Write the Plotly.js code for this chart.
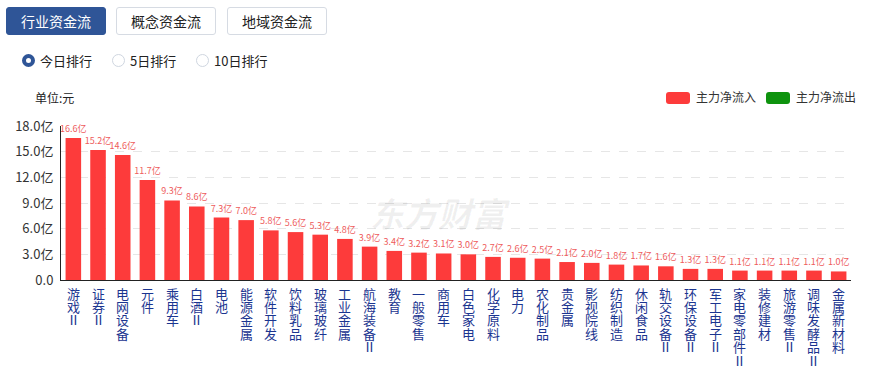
<!DOCTYPE html>
<html>
<head>
<meta charset="utf-8">
<script src="https://cdn.plot.ly/plotly-3.0.1.min.js"></script>
<style>
  html, body { margin: 0; padding: 0; background: #fff; }
  body { width: 873px; height: 369px; position: relative; overflow: hidden;
         font-family: "Noto Sans CJK SC", "Microsoft YaHei", sans-serif; }
  #chart { position: absolute; left: 0; top: 0; width: 873px; height: 369px; }
  .tab { position: absolute; top: 7px; height: 28px; width: 100px; box-sizing: border-box;
         border: 1px solid #d6dbe3; border-radius: 3px; background: #fff; color: #222;
         font-size: 14px; line-height: 26px; text-align: center; }
  .tab.on { background: #2f5597; border-color: #2f5597; color: #fff; }
  .radio { position: absolute; top: 52px; font-size: 13px; color: #222; line-height: 18px; }
  .radio i { position: absolute; left: -18px; top: 2px; width: 13px; height: 13px;
             box-sizing: border-box; border-radius: 50%; border: 1px solid #cfd6e0; background: #fff; }
  .radio.on i { border: 4px solid #2f5597; }
  .unit { position: absolute; left: 35px; top: 89px; font-size: 12px; color: #222; }
  .lg { position: absolute; top: 89px; font-size: 12px; color: #333; line-height: 16px; }
  .lg i { position: absolute; left: -30px; top: 3px; width: 24px; height: 12px; border-radius: 3px; }
</style>
</head>
<body>
<div id="chart"></div>
<div class="tab on" style="left:6px">行业资金流</div>
<div class="tab" style="left:116px">概念资金流</div>
<div class="tab" style="left:227px">地域资金流</div>
<div class="radio on" style="left:40px"><i></i>今日排行</div>
<div class="radio" style="left:130px"><i></i>5日排行</div>
<div class="radio" style="left:214px"><i></i>10日排行</div>
<div class="unit">单位:元</div>
<div class="lg" style="left:696px"><i style="background:#fd3b3b"></i>主力净流入</div>
<div class="lg" style="left:796px"><i style="background:#0e930e"></i>主力净流出</div>
<script>
// 行业板块主力净流入（亿元）
const industries = [
  "游戏Ⅱ", "证券Ⅱ", "电网设备", "元件", "乘用车", "白酒Ⅱ", "电池", "能源金属",
  "软件开发", "饮料乳品", "玻璃玻纤", "工业金属", "航海装备Ⅱ", "教育", "一般零售", "商用车",
  "白色家电", "化学原料", "电力", "农化制品", "贵金属", "影视院线", "纺织制造", "休闲食品",
  "轨交设备Ⅱ", "环保设备Ⅱ", "军工电子Ⅱ", "家电零部件Ⅱ", "装修建材", "旅游零售Ⅱ", "调味发酵品Ⅱ", "金属新材料"
];
const netInflow = [
  16.6, 15.2, 14.6, 11.7, 9.3, 8.6, 7.3, 7.0,
  5.8, 5.6, 5.3, 4.8, 3.9, 3.4, 3.2, 3.1,
  3.0, 2.7, 2.6, 2.5, 2.1, 2.0, 1.8, 1.7,
  1.6, 1.3, 1.3, 1.1, 1.1, 1.1, 1.1, 1.0
];
const yTickVals = [0, 3, 6, 9, 12, 15, 18];
const yTickText = ["0.0", "3.0亿", "6.0亿", "9.0亿", "12.0亿", "15.0亿", "18.0亿"];

const cjk = '"Noto Sans CJK SC", "Microsoft YaHei", sans-serif';

// 竖排分类名：逐字放在各自类目下方，行距紧凑
const CHAR_STEP = 13.4;
const nameAnnotations = [];
industries.forEach(name => {
  Array.from(name).forEach((ch, i) => {
    nameAnnotations.push({
      xref: "x", yref: "paper", x: name, y: 0,
      yanchor: "middle", xanchor: "center",
      yshift: -13 - CHAR_STEP * i,
      text: ch, showarrow: false,
      font: { family: cjk, size: 13, color: "#1b3590" }
    });
  });
});

const trace = {
  type: "bar",
  x: industries,
  y: netInflow,
  marker: { color: "#fd3b3b" },
  text: netInflow.map(v => v.toFixed(1) + "亿"),
  textposition: "outside",
  constraintext: "none",
  cliponaxis: false,
  textfont: { family: cjk, size: 9, color: "#ee5b5b" },
  hoverinfo: "x+y"
};

const layout = {
  width: 873, height: 369,
  margin: { l: 61, r: 22, t: 126, b: 89, pad: 0 },
  paper_bgcolor: "rgba(0,0,0,0)",
  plot_bgcolor: "rgba(0,0,0,0)",
  bargap: 0.37,
  showlegend: false,
  font: { family: cjk },
  xaxis: {
    type: "category",
    showticklabels: false,
    showline: true, linecolor: "#222", linewidth: 1,
    ticks: "", showgrid: false, zeroline: false, fixedrange: true
  },
  yaxis: {
    range: [0, 18],
    tickvals: yTickVals,
    ticktext: yTickText,
    tickfont: { family: cjk, size: 13, color: "#333" },
    showline: true, linecolor: "#222", linewidth: 1,
    ticks: "", ticklabelstandoff: 4,
    showgrid: true, gridcolor: "#e6e6e6", griddash: "dash", gridwidth: 1,
    zeroline: false, fixedrange: true
  },
  annotations: [{
    xref: "paper", yref: "paper", x: 0.48, y: 0.44,
    text: "<b><i>东方财富</i></b>", showarrow: false,
    font: { family: cjk, size: 34, color: "rgba(0,0,0,0.06)" }
  }].concat(nameAnnotations)
};

Plotly.newPlot("chart", [trace], layout, { displayModeBar: false, staticPlot: true });
</script>
</body>
</html>
